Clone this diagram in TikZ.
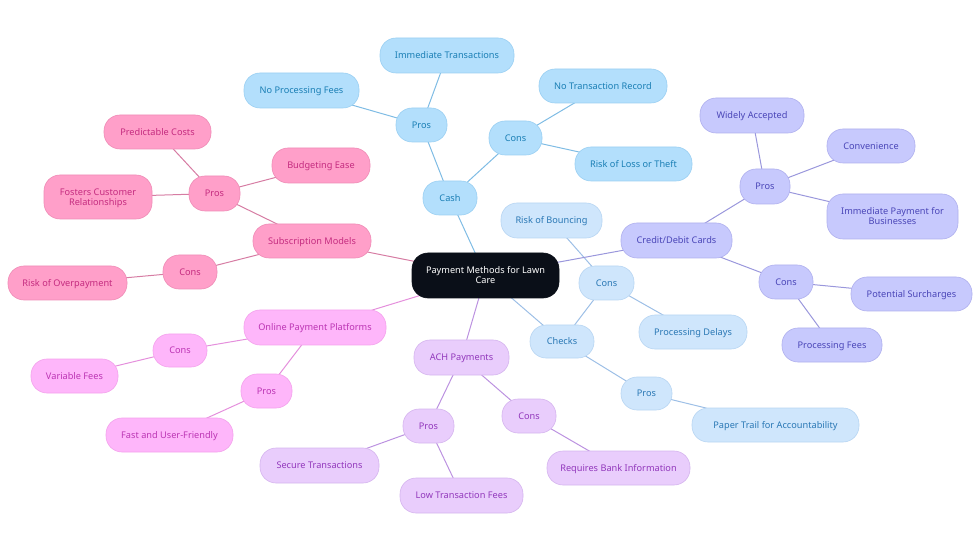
\documentclass[tikz,border=0pt]{standalone}
\usepackage{fontspec}
\setmainfont{Noto Sans}
\usetikzlibrary{backgrounds}
\definecolor{bF}{HTML}{B3DFFC}\definecolor{bB}{HTML}{9BD0F2}\definecolor{bD}{HTML}{7FBCE4}\definecolor{bT}{HTML}{1A7FB5}
\definecolor{lF}{HTML}{CFE6FC}\definecolor{lB}{HTML}{B8D5F2}\definecolor{lD}{HTML}{9DBFE6}\definecolor{lT}{HTML}{2A78B5}
\definecolor{vF}{HTML}{C7C9FD}\definecolor{vB}{HTML}{B0B0EE}\definecolor{vD}{HTML}{9A97DC}\definecolor{vT}{HTML}{4A46B8}
\definecolor{pF}{HTML}{E9CDFC}\definecolor{pB}{HTML}{D5B5EE}\definecolor{pD}{HTML}{BC92E0}\definecolor{pT}{HTML}{9238BC}
\definecolor{mF}{HTML}{FEB6FA}\definecolor{mB}{HTML}{F3A2EC}\definecolor{mD}{HTML}{E48FDC}\definecolor{mT}{HTML}{BC35B4}
\definecolor{kF}{HTML}{FF9FC9}\definecolor{kB}{HTML}{EE8CB6}\definecolor{kD}{HTML}{D67CA3}\definecolor{kT}{HTML}{C52C80}
\definecolor{rootF}{HTML}{0A0F18}
\tikzset{
 x=1pt,y=-1pt,
 box/.style={rectangle,rounded corners=16pt,inner sep=0pt,line width=.6pt,
   font=\fontsize{9.2}{10}\selectfont},
 blueN/.style={box,fill=bF,draw=bB,text=bT},
 lightN/.style={box,fill=lF,draw=lB,text=lT},
 violetN/.style={box,fill=vF,draw=vB,text=vT},
 purpleN/.style={box,fill=pF,draw=pB,text=pT},
 magentaN/.style={box,fill=mF,draw=mB,text=mT},
 pinkN/.style={box,fill=kF,draw=kB,text=kT},
 rootN/.style={box,fill=rootF,draw=rootF,text=white},
 link/.style={line width=1pt},
}
\newcommand{\mm}[7]{\node[#6,minimum width={(#3-#2)*1pt},minimum height={(#5-#4)*1pt}] (#1) at ({(#2+#3)/2},{(#4+#5)/2}) {\raisebox{-3.6pt}[0pt][0pt]{\begin{tabular}{@{}c@{}}#7\end{tabular}}};}
\newcommand{\lk}[3]{\draw[link,#1] (#2.center) -- (#3.center);}
\begin{document}
\begin{tikzpicture}
\useasboundingbox (0,0) rectangle (980,553);
\mm{root}{412}{559}{253}{298}{rootN}{Payment Methods for Lawn\\Care}
\mm{cash}{423}{477}{181}{215}{blueN}{Cash}
\mm{cashpros}{396}{447}{108}{142}{blueN}{Pros}
\mm{immtrans}{380}{514}{38}{73}{blueN}{Immediate Transactions}
\mm{nofees}{244}{359}{73}{108}{blueN}{No Processing Fees}
\mm{cashcons}{489}{542}{121}{155}{blueN}{Cons}
\mm{norecord}{539}{667}{69}{103}{blueN}{No Transaction Record}
\mm{risktheft}{575}{692}{147}{181}{blueN}{Risk of Loss or Theft}
\mm{checks}{530}{594}{325}{358}{lightN}{Checks}
\mm{checkcons}{579}{634}{266}{300}{lightN}{Cons}
\mm{bounce}{501}{602}{203}{238}{lightN}{Risk of Bouncing}
\mm{delays}{639}{747}{315}{349}{lightN}{Processing Delays}
\mm{checkpros}{621}{672}{377}{410}{lightN}{Pros}
\mm{paper}{692}{859}{408}{442}{lightN}{Paper Trail for Accountability}
\mm{card}{621}{732}{223}{258}{violetN}{Credit/Debit Cards}
\mm{cardpros}{740}{790}{169}{204}{violetN}{Pros}
\mm{widely}{700}{804}{98}{133}{violetN}{Widely Accepted}
\mm{conv}{827}{915}{129}{163}{violetN}{Convenience}
\mm{immpay}{827}{958}{194}{239}{violetN}{Immediate Payment for\\Businesses}
\mm{cardcons}{759}{813}{265}{299}{violetN}{Cons}
\mm{surch}{851}{972}{277}{311}{violetN}{Potential Surcharges}
\mm{procfees}{782}{882}{328}{362}{violetN}{Processing Fees}
\mm{ach}{414}{509}{340}{375}{purpleN}{ACH Payments}
\mm{achpros}{403}{454}{409}{443}{purpleN}{Pros}
\mm{secure}{260}{379}{448}{483}{purpleN}{Secure Transactions}
\mm{lowfees}{400}{523}{478}{513}{purpleN}{Low Transaction Fees}
\mm{achcons}{502}{556}{399}{433}{purpleN}{Cons}
\mm{bank}{547}{690}{451}{485}{purpleN}{Requires Bank Information}
\mm{online}{244}{386}{310}{345}{magentaN}{Online Payment Platforms}
\mm{onlinecons}{153}{207}{334}{367}{magentaN}{Cons}
\mm{variable}{31}{118}{359}{393}{magentaN}{Variable Fees}
\mm{onlinepros}{241}{292}{374}{408}{magentaN}{Pros}
\mm{fast}{106}{233}{418}{452}{magentaN}{Fast and User-Friendly}
\mm{sub}{253}{371}{224}{258}{pinkN}{Subscription Models}
\mm{subpros}{189}{240}{176}{211}{pinkN}{Pros}
\mm{predict}{104}{211}{115}{149}{pinkN}{Predictable Costs}
\mm{budget}{272}{370}{148}{183}{pinkN}{Budgeting Ease}
\mm{fosters}{44}{152}{175}{219}{pinkN}{Fosters Customer\\Relationships}
\mm{subcons}{163}{217}{255}{289}{pinkN}{Cons}
\mm{overpay}{8}{127}{266}{300}{pinkN}{Risk of Overpayment}
\begin{pgfonlayer}{background}
\lk{bD}{root}{cash}\lk{bD}{cash}{cashpros}\lk{bD}{cashpros}{immtrans}\lk{bD}{cashpros}{nofees}
\lk{bD}{cash}{cashcons}\lk{bD}{cashcons}{norecord}\lk{bD}{cashcons}{risktheft}
\lk{lD}{root}{checks}\lk{lD}{checks}{checkcons}\lk{lD}{checkcons}{bounce}\lk{lD}{checkcons}{delays}
\lk{lD}{checks}{checkpros}\lk{lD}{checkpros}{paper}
\lk{vD}{root}{card}\lk{vD}{card}{cardpros}\lk{vD}{cardpros}{widely}\lk{vD}{cardpros}{conv}\lk{vD}{cardpros}{immpay}
\lk{vD}{card}{cardcons}\lk{vD}{cardcons}{surch}\lk{vD}{cardcons}{procfees}
\lk{pD}{root}{ach}\lk{pD}{ach}{achpros}\lk{pD}{achpros}{secure}\lk{pD}{achpros}{lowfees}
\lk{pD}{ach}{achcons}\lk{pD}{achcons}{bank}
\lk{mD}{root}{online}\lk{mD}{online}{onlinecons}\lk{mD}{onlinecons}{variable}\lk{mD}{online}{onlinepros}\lk{mD}{onlinepros}{fast}
\lk{kD}{root}{sub}\lk{kD}{sub}{subpros}\lk{kD}{subpros}{predict}\lk{kD}{subpros}{budget}\lk{kD}{subpros}{fosters}
\lk{kD}{sub}{subcons}\lk{kD}{subcons}{overpay}
\end{pgfonlayer}
\end{tikzpicture}
\end{document}
